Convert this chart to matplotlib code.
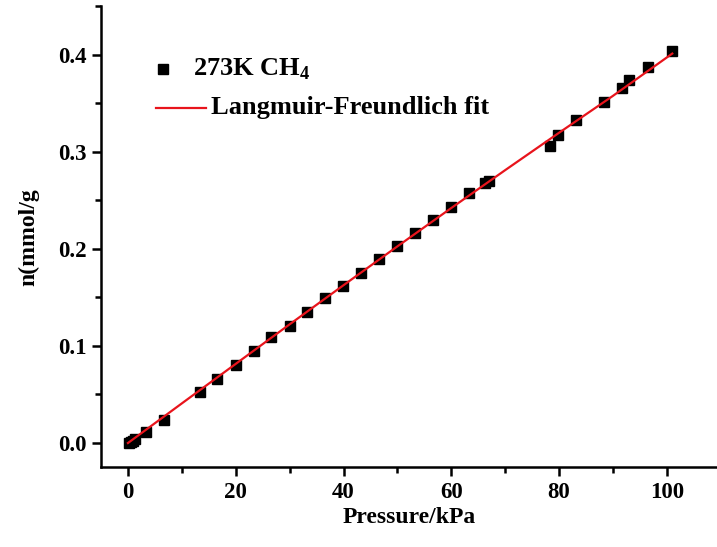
import matplotlib
matplotlib.use("Agg")
import matplotlib.pyplot as plt
from matplotlib.ticker import MultipleLocator
from matplotlib.lines import Line2D

plt.rcParams['font.family'] = ['Liberation Serif', 'DejaVu Serif']
plt.rcParams['font.weight'] = 'bold'
plt.rcParams['mathtext.fontset'] = 'custom'
plt.rcParams['mathtext.rm'] = 'Liberation Serif:bold'
plt.rcParams['mathtext.bf'] = 'Liberation Serif:bold'

# CH4 uptake at 273 K
pressure_kpa = [0.2, 0.5, 0.9, 1.4, 3.3, 6.7, 13.3, 16.5, 20.0, 23.3, 26.6, 30.0,
                33.3, 36.6, 39.9, 43.2, 46.6, 49.9, 53.2, 56.6, 59.9, 63.2, 66.3,
                67.0, 78.3, 79.8, 83.1, 88.4, 91.7, 93.0, 96.5, 101.0]
uptake_mmol_g = [0.0005, 0.001, 0.002, 0.004, 0.011, 0.024, 0.0524, 0.0655, 0.080,
                 0.095, 0.109, 0.121, 0.135, 0.1494, 0.162, 0.175, 0.189, 0.2024,
                 0.216, 0.230, 0.2427, 0.257, 0.268, 0.270, 0.3063, 0.3172, 0.3321,
                 0.351, 0.3655, 0.3738, 0.3873, 0.4035]

# Langmuir-Freundlich fit curve
fit_pressure = [0.0, 10.0, 20.0, 30.0, 40.0, 50.0, 60.0, 70.0, 80.0, 90.0, 101.0]
fit_uptake = [0.0, 0.0408, 0.0815, 0.1222, 0.1625, 0.2025, 0.2420, 0.2810,
              0.3195, 0.3575, 0.4010]

W, H = 717, 547
fig = plt.figure(figsize=(W / 100, H / 100), dpi=100)
ax = fig.add_axes([101 / W, 1 - 467.3 / H, 1 - 101 / W, (467.3 - 6) / H])

ax.plot(pressure_kpa, uptake_mmol_g, linestyle='none', marker='s',
        markersize=6.5, color='black', zorder=2)
ax.plot(fit_pressure, fit_uptake, color='#e8141c', linewidth=1.6, zorder=3)

ax.set_xlim(-5, 109.3)
ax.set_ylim(-0.025, 0.45)
ax.xaxis.set_major_locator(MultipleLocator(20))
ax.xaxis.set_minor_locator(MultipleLocator(10))
ax.yaxis.set_major_locator(MultipleLocator(0.1))
ax.yaxis.set_minor_locator(MultipleLocator(0.05))
ax.xaxis.set_major_formatter(plt.FuncFormatter(lambda v, p: f"{v:.0f}"))
ax.yaxis.set_major_formatter(plt.FuncFormatter(lambda v, p: f"{v:.1f}"))

for side in ('top', 'right'):
    ax.spines[side].set_visible(False)
for side in ('left', 'bottom'):
    ax.spines[side].set_linewidth(1.8)

ax.tick_params(which='major', direction='out', length=6.5, width=1.8,
               labelsize=16.5, pad=4)
ax.tick_params(which='minor', direction='out', length=4, width=1.8)
for lab in ax.get_xticklabels() + ax.get_yticklabels():
    lab.set_fontweight('bold')

ax.set_xlabel('Pressure/kPa', fontsize=17, fontweight='bold')
ax.set_ylabel('n(mmol/g', fontsize=17, fontweight='bold')
ax.xaxis.set_label_coords(0.5, -0.085)
ax.yaxis.set_label_coords(-0.1, 0.5)

# legend drawn in figure pixel coordinates
def fx(px):
    return px / W

def fy(py):
    return 1 - py / H

fig.add_artist(Line2D([fx(162.7)], [fy(69.3)], marker='s', markersize=6.5,
                      color='black', linestyle='none'))
fig.text(fx(193), fy(69.3), r'273K CH$_{\mathbf{4}}$', fontsize=19,
         fontweight='bold', va='center', ha='left')
fig.add_artist(Line2D([fx(156), fx(206)], [fy(107.7), fy(107.7)],
                      color='#e8141c', linewidth=1.6))
fig.text(fx(211), fy(107.7), 'Langmuir-Freundlich fit', fontsize=19,
         fontweight='bold', va='center', ha='left')

fig.savefig('out.png', dpi=100)
